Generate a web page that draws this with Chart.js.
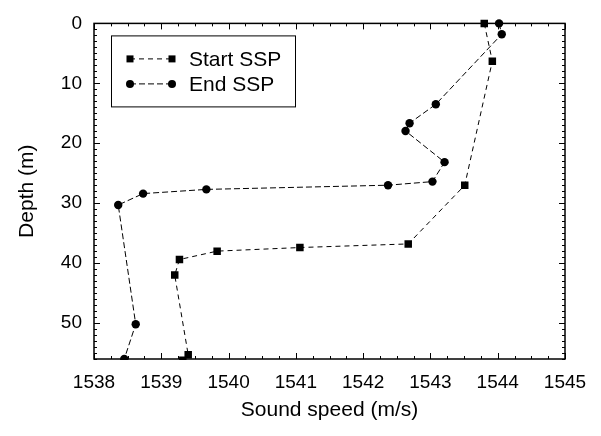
<!DOCTYPE html>
<html>
<head>
<meta charset="utf-8">
<script src="https://cdn.jsdelivr.net/npm/chart.js@4/dist/chart.umd.min.js"></script>
<style>
html,body{margin:0;padding:0;background:#fff;}
#wrap{width:601px;height:436px;position:relative;}
</style>
</head>
<body>
<div id="wrap"><canvas id="c" width="601" height="436"></canvas></div>
<script>
// ---- data ----
const seriesNames = ['Start SSP', 'End SSP'];
const startSpeed = [1543.80, 1543.92, 1543.51, 1542.67, 1541.06, 1539.83, 1539.27, 1539.20, 1539.40, 1539.32];
const startDepth = [0, 6.3, 27.0, 36.8, 37.4, 38.0, 39.4, 42.0, 55.3, 56.2];
const endSpeed = [1544.02, 1544.06, 1543.08, 1542.69, 1542.63, 1543.21, 1543.03, 1542.37, 1539.67, 1538.73, 1538.36, 1538.62, 1538.45];
const endDepth = [0, 1.8, 13.5, 16.65, 17.95, 23.15, 26.4, 27.0, 27.7, 28.4, 30.3, 50.2, 56.0];
const xTicks = [1538, 1539, 1540, 1541, 1542, 1543, 1544, 1545];
const yTicks = [0, 10, 20, 30, 40, 50];
const xTitle = 'Sound speed (m/s)';
const yTitle = 'Depth (m)';

const FONT = '"Liberation Sans", Arial, sans-serif';
const pts = (xs, ys) => xs.map((x, i) => ({x: x, y: ys[i]}));

const framePlugin = {
  id: 'frame',
  afterDatasetsDraw(chart) {
    const ctx = chart.ctx, a = chart.chartArea;
    const xs = chart.scales.x, ys = chart.scales.y;
    ctx.save();
    ctx.strokeStyle = '#000';
    ctx.lineWidth = 1;
    for (let v = xs.min; v <= xs.max + 1e-9; v += 0.25) {
      const px = Math.round(xs.getPixelForValue(v)) + 0.5;
      const major = Math.abs(v - Math.round(v)) < 1e-6;
      const L = major ? 6 : 3;
      ctx.beginPath();
      ctx.moveTo(px, a.bottom); ctx.lineTo(px, a.bottom - L);
      ctx.moveTo(px, a.top); ctx.lineTo(px, a.top + L);
      ctx.stroke();
    }
    for (let v = ys.min; v <= ys.max + 1e-9; v += 1) {
      const py = Math.round(ys.getPixelForValue(v)) + 0.5;
      const major = v % 10 === 0;
      const L = major ? 6 : 3;
      ctx.beginPath();
      ctx.moveTo(a.left, py); ctx.lineTo(a.left + L, py);
      ctx.moveTo(a.right, py); ctx.lineTo(a.right - L, py);
      ctx.stroke();
    }
    ctx.lineWidth = 1.5;
    ctx.strokeRect(a.left, a.top, a.right - a.left, a.bottom - a.top);

    // legend
    const lx = a.left + 17, ly = a.top + 12, lw = 184, lh = 71;
    ctx.fillStyle = '#fff';
    ctx.fillRect(lx, ly, lw, lh);
    ctx.lineWidth = 1;
    ctx.strokeStyle = '#000';
    ctx.strokeRect(lx + 0.5, ly + 0.5, lw, lh);
    const dsets = chart.data.datasets;
    const rows = [ly + 23.5, ly + 48.5];
    dsets.forEach((ds, i) => {
      const y = rows[i];
      const x1 = lx + 19, x2 = lx + 61;
      ctx.save();
      ctx.setLineDash(ds.borderDash);
      ctx.strokeStyle = ds.borderColor;
      ctx.lineWidth = ds.borderWidth;
      ctx.beginPath(); ctx.moveTo(x1, y); ctx.lineTo(x2, y); ctx.stroke();
      ctx.restore();
      ctx.fillStyle = '#000';
      [x1, x2].forEach(x => {
        if (ds.pointStyle === 'rect') {
          ctx.fillRect(x - 3.5, y - 3.5, 7, 7);
        } else {
          ctx.beginPath(); ctx.arc(x, y, 4, 0, Math.PI * 2); ctx.fill();
        }
      });
      ctx.font = '21px ' + FONT;
      ctx.textBaseline = 'middle';
      ctx.textAlign = 'left';
      ctx.fillText(ds.label, lx + 78, y + 1);
    });
    ctx.restore();
  }
};

new Chart(document.getElementById('c'), {
  type: 'scatter',
  data: {
    datasets: [
      {
        label: seriesNames[0],
        data: pts(startSpeed, startDepth),
        showLine: true,
        borderColor: '#000',
        backgroundColor: '#000',
        borderWidth: 1,
        borderDash: [5, 4],
        pointStyle: 'rect',
        pointRadius: 5.3,
        pointBorderWidth: 0,
        pointHoverRadius: 5.3,
        clip: {left: 6, right: 6, top: 6, bottom: 1}
      },
      {
        label: seriesNames[1],
        data: pts(endSpeed, endDepth),
        showLine: true,
        borderColor: '#000',
        backgroundColor: '#000',
        borderWidth: 1,
        borderDash: [6, 3],
        pointStyle: 'circle',
        pointRadius: 4.2,
        pointBorderWidth: 0,
        pointHoverRadius: 4.2,
        clip: {left: 6, right: 6, top: 6, bottom: 1}
      }
    ]
  },
  options: {
    responsive: false,
    animation: false,
    devicePixelRatio: 1,
    layout: {padding: {top: 18, right: 36, left: 0, bottom: 0}},
    plugins: {legend: {display: false}, tooltip: {enabled: false}},
    scales: {
      x: {
        type: 'linear',
        min: xTicks[0],
        max: xTicks[xTicks.length - 1],
        afterFit(s) { s.height = 77; },
        afterBuildTicks(s) { s.ticks = xTicks.map(v => ({value: v})); },
        grid: {display: false, drawTicks: false},
        border: {display: false},
        ticks: {color: '#000', font: {family: FONT, size: 19}, padding: 12, maxRotation: 0, autoSkip: false,
          callback: v => String(v)},
        title: {display: true, text: xTitle, color: '#000', font: {family: FONT, size: 21, lineHeight: 1.2}, padding: {top: 0, bottom: 13}}
      },
      y: {
        type: 'linear',
        reverse: true,
        min: 0,
        max: 56,
        afterFit(s) { s.width = 94; },
        afterBuildTicks(s) { s.ticks = yTicks.map(v => ({value: v})); },
        grid: {display: false, drawTicks: false},
        border: {display: false},
        ticks: {color: '#000', font: {family: FONT, size: 19}, padding: 12, autoSkip: false,
          callback: v => String(v)},
        title: {display: true, text: yTitle, color: '#000', font: {family: FONT, size: 21, lineHeight: 1.2}, padding: {top: 15, bottom: 0}}
      }
    }
  },
  plugins: [framePlugin]
});
</script>
</body>
</html>
